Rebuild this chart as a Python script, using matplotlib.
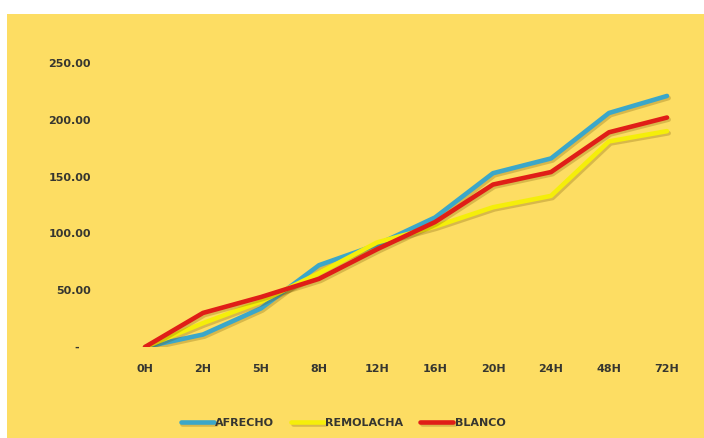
import matplotlib
matplotlib.use("Agg")
import matplotlib.pyplot as plt
import matplotlib.patheffects as pe
from matplotlib.patches import Rectangle
from matplotlib.ticker import FuncFormatter

# data
horas = ["0H", "2H", "5H", "8H", "12H", "16H", "20H", "24H", "48H", "72H"]
afrecho = [0, 11, 34, 72, 90, 114, 153, 166, 206, 221]
remolacha = [0, 21, 40, 65, 92, 106, 123, 133, 181, 190]
blanco = [0, 30, 44, 60, 86, 110, 143, 154, 189, 202]

bg = "#FDDD63"
txt = "#363630"

fig = plt.figure(figsize=(7.04, 4.38), dpi=100)
fig.patch.set_facecolor("white")
# yellow chart area (white strip on top / left)
fig.patches.append(Rectangle((7 / 704, 0), 697 / 704, 424 / 438,
                             transform=fig.transFigure, facecolor=bg,
                             edgecolor="none", zorder=-5))

ax = fig.add_axes([116 / 704, 1 - 347 / 438, 580 / 704, 284 / 438])
ax.set_facecolor("none")
ax.set_zorder(2)

shadow = [pe.SimpleLineShadow(offset=(1.2, -1.5), shadow_color="#6a4a00", alpha=0.25),
          pe.Normal()]

x = range(len(horas))
ax.plot(x, afrecho, color="#3BA7C9", lw=3.3, label="AFRECHO", path_effects=shadow,
        solid_capstyle="round")
ax.plot(x, remolacha, color="#F5EE0A", lw=3.3, label="REMOLACHA", path_effects=shadow,
        solid_capstyle="round")
ax.plot(x, blanco, color="#E01E17", lw=3.3, label="BLANCO", path_effects=shadow,
        solid_capstyle="round")

ax.set_xlim(-0.5, len(horas) - 0.5)
ax.set_ylim(0, 250)
ax.set_yticks([0, 50, 100, 150, 200, 250])
ax.yaxis.set_major_formatter(FuncFormatter(lambda v, p: "-   " if v == 0 else f"{v:.2f}"))
ax.set_xticks(list(x))
ax.set_xticklabels(horas)

for s in ax.spines.values():
    s.set_visible(False)
ax.tick_params(axis="both", length=0, labelsize=8, labelcolor=txt)
ax.tick_params(axis="y", pad=18)
ax.tick_params(axis="x", pad=12)
for lab in ax.get_xticklabels() + ax.get_yticklabels():
    lab.set_fontweight("bold")

leg = fig.legend(loc="center", bbox_to_anchor=(343 / 704, 1 - 423 / 438), ncol=3,
                 frameon=False, handlelength=3.0, handletextpad=0.1, columnspacing=1.5,
                 prop={"size": 8, "weight": "bold"})
for t in leg.get_texts():
    t.set_color(txt)

fig.savefig("out.png", dpi=100, facecolor=fig.get_facecolor())
